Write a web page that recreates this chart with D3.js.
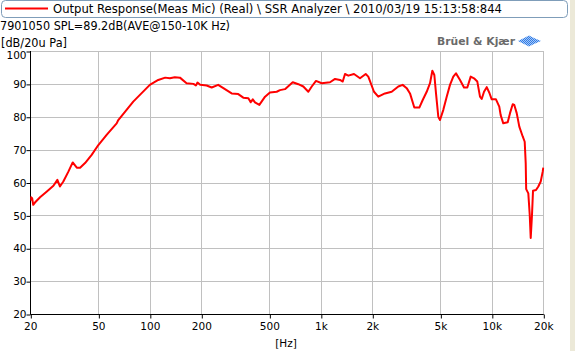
<!DOCTYPE html>
<html>
<head>
<meta charset="utf-8">
<script src="https://cdn.jsdelivr.net/npm/d3@7"></script>
<style>
    body { margin: 0; background: #ffffff; }
    svg { display: block; font-family: "DejaVu Sans", sans-serif; }
</style>
</head>
<body>
<div id="chart-area"></div>
<script>
const freqs = [20, 20.2, 20.5, 20.8, 21.3, 22.8, 24.9, 27.3, 28.8, 29.8, 31.2, 33.4, 35.4, 37.4, 39.1, 41.8,
    45.7, 50, 55.9, 64, 65.4, 80, 100, 112, 123, 131, 140, 150, 164, 180, 186, 190, 197, 215, 230, 251,
    275, 301, 329, 352, 377, 389, 400, 412, 437, 472, 504, 552, 577, 617, 685, 739, 790, 845, 885, 937,
    1012, 1132, 1211, 1295, 1343, 1385, 1448, 1563, 1695, 1830, 1895, 2046, 2167, 2372, 2597, 2839, 3012,
    3178, 3323, 3521, 3767, 3943, 4161, 4351, 4489, 4611, 4716, 4865, 4977, 5204, 5447, 5694, 5953, 6173,
    6516, 6877, 7189, 7525, 7867, 8225, 8529, 8727, 9002, 9336, 9669, 9986, 10574, 11055, 11265, 11667,
    12385, 12775, 13249, 13536, 13981, 14478, 15156, 15570, 15783, 15880, 16346, 16658, 16882, 17180,
    17414, 18131, 18703, 19316, 19842, 20000];
const levels = [54.5, 55.5, 55.2, 53.2, 53.9, 55.5, 57.2, 59, 60.8, 58.8, 60.3, 63.3, 66.1, 64.5, 64.5, 65.9,
    68.4, 71.4, 74.5, 78, 79, 84.6, 89.7, 91.2, 91.9, 91.7, 92, 91.9, 90.2, 90, 89.5, 90.4, 89.7, 89.5, 88.9,
    89.7, 88.4, 87.1, 86.9, 85.8, 85.6, 84.4, 85.3, 84.4, 83.6, 86.1, 87.4, 87.6, 88.1, 88.4, 90.5, 89.9,
    89.2, 87.6, 89.2, 90.9, 90.2, 90.5, 91.5, 91.2, 90.7, 93, 92.5, 93, 91.7, 93, 92.2, 87.6, 86.1, 87.1,
    87.6, 89.2, 89.7, 88.7, 87.1, 82.8, 82.8, 85.1, 87.6, 90.2, 94, 92.7, 87.1, 80, 79, 82.1, 86.1, 89.7,
    92.2, 93.2, 91.2, 88.9, 88.9, 92.2, 91.7, 90.7, 86.1, 85.4, 87.6, 89, 87.3, 85.3, 85.3, 83.1, 80.5, 78,
    78.3, 81.1, 83.8, 83.6, 81.1, 77, 74, 72.4, 65.9, 58, 56.7, 50.2, 43.1, 50.2, 57.5, 57.7, 58.8, 60.3,
    63.3, 64.5];

const yTicks = [20, 30, 40, 50, 60, 70, 80, 90, 100];
const xTicks = [20, 50, 100, 200, 500, 1000, 2000, 5000, 10000, 20000];
const xTickLabels = ["20", "50", "100", "200", "500", "1k", "2k", "5k", "10k", "20k"];

const legendText = "Output Response(Meas Mic) (Real) \\ SSR Analyzer \\ 2010/03/19 15:13:58:844";
const infoText = "7901050 SPL=89.2dB(AVE@150-10K Hz)";
const unitText = "[dB/20u Pa]";

class ResponsePlot {
    constructor(parentElement) {
        this.parentElement = parentElement;
        this.data = freqs.map((f, i) => ({freq: f, level: levels[i]}));
        this.render();
    }

    render() {
        let vis = this;

        vis.width = 575;
        vis.height = 351;
        vis.plot = {left: 30.3, right: 543.3, top: 51, bottom: 314};

        vis.svg = d3.select("#" + vis.parentElement).append("svg")
            .attr("width", vis.width)
            .attr("height", vis.height);

        // window frame strip at right edge
        vis.svg.append("rect")
            .attr("x", 570).attr("y", 0)
            .attr("width", 5).attr("height", vis.height)
            .attr("fill", "#ece9d8");

        vis.x = d3.scaleLog().domain([20, 20000]).range([vis.plot.left, vis.plot.right]);
        vis.y = d3.scaleLinear().domain([20, 100]).range([vis.plot.bottom, vis.plot.top]);

        // grid
        vis.svg.append("g").selectAll("line.h")
            .data(yTicks.filter(d => d > 20))
            .enter().append("line")
            .attr("x1", vis.plot.left).attr("x2", vis.plot.right)
            .attr("y1", d => Math.round(vis.y(d)) + 0.5)
            .attr("y2", d => Math.round(vis.y(d)) + 0.5)
            .attr("stroke", "#c0c0c0");

        vis.svg.append("g").selectAll("line.v")
            .data(xTicks.filter(d => d > 20))
            .enter().append("line")
            .attr("x1", d => Math.round(vis.x(d)) + 0.5)
            .attr("x2", d => Math.round(vis.x(d)) + 0.5)
            .attr("y1", vis.plot.top).attr("y2", vis.plot.bottom)
            .attr("stroke", "#c0c0c0");

        // axes
        let yAxis = d3.axisLeft(vis.y).tickValues(yTicks).tickSize(4).tickFormat(d3.format("d"));
        let yg = vis.svg.append("g")
            .attr("transform", `translate(${Math.round(vis.plot.left) + 0.5},0)`)
            .call(yAxis);
        yg.select(".domain").attr("d", `M0,${vis.plot.top}V${vis.plot.bottom + 0.5}`);
        yg.selectAll(".tick line").attr("transform", "translate(0,0.5)");
        yg.selectAll("text")
            .attr("font-size", 10.5)
            .attr("font-family", "DejaVu Sans")
            .attr("x", -4)
            .attr("dy", d => d === 100 ? "0.75em" : "0.35em");

        let xAxis = d3.axisBottom(vis.x).tickValues(xTicks).tickSize(4)
            .tickFormat((d, i) => xTickLabels[i]);
        let xg = vis.svg.append("g")
            .attr("transform", `translate(0,${Math.round(vis.plot.bottom) + 0.5})`)
            .call(xAxis);
        xg.select(".domain").attr("d", `M${vis.plot.left},0H${vis.plot.right + 0.5}`);
        xg.selectAll(".tick line").attr("transform", "translate(0.5,0)");
        xg.selectAll("text")
            .attr("font-size", 10.5)
            .attr("font-family", "DejaVu Sans")
            .attr("y", 8);
        vis.svg.selectAll(".domain, .tick line").attr("stroke", "#000");
        vis.svg.selectAll(".tick text").attr("fill", "#000");

        vis.svg.append("text")
            .attr("x", 286).attr("y", 347)
            .attr("text-anchor", "middle")
            .attr("font-size", 10.5)
            .text("[Hz]");

        // response curve
        vis.svg.append("clipPath").attr("id", "plot-clip")
            .append("rect")
            .attr("x", vis.plot.left).attr("y", vis.plot.top)
            .attr("width", vis.plot.right - vis.plot.left + 1)
            .attr("height", vis.plot.bottom - vis.plot.top);

        let line = d3.line()
            .x(d => vis.x(d.freq))
            .y(d => vis.y(d.level));

        vis.svg.append("path")
            .datum(vis.data)
            .attr("clip-path", "url(#plot-clip)")
            .attr("d", line)
            .attr("fill", "none")
            .attr("stroke", "#ff0000")
            .attr("stroke-width", 2)
            .attr("stroke-linejoin", "round");

        vis.drawHeader();
    }

    drawHeader() {
        let vis = this;

        // legend box
        vis.svg.append("rect")
            .attr("x", 1.5).attr("y", 0.5)
            .attr("width", 566).attr("height", 17)
            .attr("rx", 4)
            .attr("fill", "#fff")
            .attr("stroke", "#7f9db9");

        vis.svg.append("line")
            .attr("x1", 5).attr("x2", 48)
            .attr("y1", 8.5).attr("y2", 8.5)
            .attr("stroke", "#ff0000")
            .attr("stroke-width", 2);

        vis.svg.append("text")
            .attr("x", 53).attr("y", 13)
            .attr("font-size", 11.5)
            .attr("textLength", 449)
            .attr("lengthAdjust", "spacingAndGlyphs")
            .text(legendText);

        vis.svg.append("text")
            .attr("x", 0).attr("y", 30)
            .attr("font-size", 11.5)
            .attr("textLength", 230)
            .attr("lengthAdjust", "spacingAndGlyphs")
            .text(infoText);

        vis.svg.append("text")
            .attr("x", 1).attr("y", 47)
            .attr("font-size", 11.5)
            .attr("textLength", 66)
            .attr("lengthAdjust", "spacingAndGlyphs")
            .text(unitText);

        // maker logo
        vis.svg.append("text")
            .attr("x", 437).attr("y", 45)
            .attr("font-size", 11)
            .attr("font-weight", "bold")
            .attr("fill", "#6a6a6a")
            .attr("textLength", 78)
            .attr("lengthAdjust", "spacingAndGlyphs")
            .text("Brüel & Kjær");

        let pattern = vis.svg.append("defs").append("pattern")
            .attr("id", "dots")
            .attr("width", 2).attr("height", 2)
            .attr("patternUnits", "userSpaceOnUse");
        pattern.append("rect").attr("width", 2).attr("height", 2).attr("fill", "#a9c8f5");
        pattern.append("rect").attr("width", 1).attr("height", 1).attr("fill", "#2f7de8");
        pattern.append("rect").attr("x", 1).attr("y", 1).attr("width", 1).attr("height", 1).attr("fill", "#2f7de8");

        vis.svg.append("path")
            .attr("d", "M518,41 L524,38 L529,35.5 L534,38 L541,41 L534,44 L529,46.5 L524,44 Z")
            .attr("fill", "url(#dots)");
    }
}

new ResponsePlot("chart-area");
</script>
</body>
</html>
